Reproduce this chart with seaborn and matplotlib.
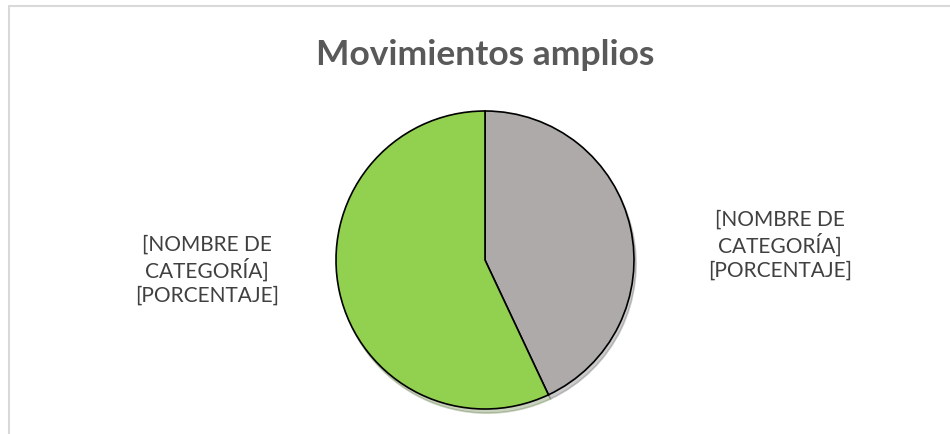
import matplotlib
matplotlib.use("Agg")
import matplotlib.pyplot as plt
import seaborn as sns
from matplotlib.patches import Rectangle

# datos
categorias = ["[NOMBRE DE\nCATEGORÍA]\n[PORCENTAJE]", "[NOMBRE DE\nCATEGORÍA]\n[PORCENTAJE]"]
valores = [43, 57]
colores = ["#AEAAAA", "#92D050"]
titulo = "Movimientos amplios"

sns.set_theme(style="white")
plt.rcParams["font.family"] = ["Lato", "DejaVu Sans"]

W, H = 950, 435
fig = plt.figure(figsize=(W / 100, H / 100), dpi=100)
fig.patch.set_facecolor("white")

# borde del área del gráfico
fig.patches.append(Rectangle((9 / W, -0.1), 1.2, (H - 7) / H + 0.1, transform=fig.transFigure,
                             fill=False, edgecolor="#D9D9D9", linewidth=1.5))

cx, cy, r = 485, 261, 149
ax = fig.add_axes([0, 0, 1, 1])
ax.pie(valores, colors=colores, startangle=90, counterclock=False, radius=1,
       wedgeprops=dict(edgecolor="black", linewidth=1.2),
       shadow=dict(ox=0.01, oy=-0.02, shade=0.5, alpha=0.3))
ax.set_xlim(-1.05, 1.05)
ax.set_ylim(-1.05, 1.05)
ax.set_position([(cx - r * 1.05) / W, (H - cy - r * 1.05) / H, 2.1 * r / W, 2.1 * r / H])
ax.axis("off")

fig.text(485 / W, 1 - 55 / H, titulo, ha="center", va="center", fontsize=25.5,
         fontweight="bold", color="#595959")

# etiquetas de datos
fig.text(780 / W, 1 - 245 / H, categorias[0], ha="center", va="center", fontsize=15,
         color="#404040", linespacing=1.2)
fig.text(207 / W, 1 - 270 / H, categorias[1], ha="center", va="center", fontsize=15,
         color="#404040", linespacing=1.2)

fig.savefig("out.png", dpi=100)
